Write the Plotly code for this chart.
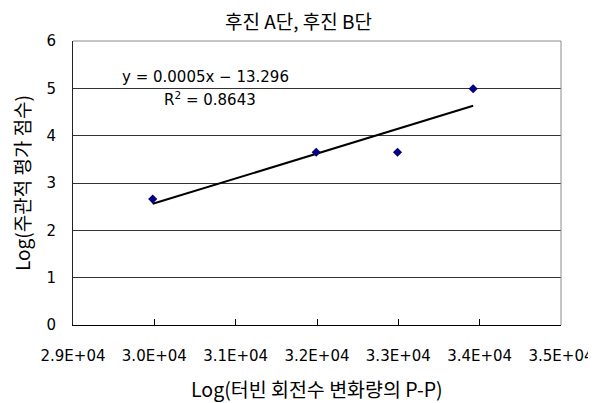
import numpy as np
import plotly.graph_objects as go

# data
x_vals = [29980, 31990, 32990, 33920]
y_vals = [2.66, 3.65, 3.65, 4.99]

x_ticks = [29000, 30000, 31000, 32000, 33000, 34000, 35000]
x_tick_labels = ["2.9E+04", "3.0E+04", "3.1E+04", "3.2E+04", "3.3E+04", "3.4E+04", "3.5E+04"]
y_ticks = [0, 1, 2, 3, 4, 5, 6]

title_text = "후진 A단, 후진 B단"
x_title = "Log(터빈 회전수 변화량의 P-P)"
y_title = "Log(주관적 평가 점수)"
eq_text = "y = 0.0005x − 13.296"
r2_text = "R<sup>2</sup> = 0.8643"

# linear trendline from the data
slope, intercept = np.polyfit(x_vals, y_vals, 1)
trend_x = [min(x_vals), max(x_vals)]
trend_y = [slope * v + intercept for v in trend_x]

KFONT = "Noto Sans CJK KR"
NFONT = "DejaVu Sans"

fig = go.Figure()
fig.add_trace(go.Scatter(x=trend_x, y=trend_y, mode="lines",
                         line=dict(color="black", width=2), showlegend=False,
                         hoverinfo="skip"))
fig.add_trace(go.Scatter(x=x_vals, y=y_vals, mode="markers",
                         marker=dict(symbol="diamond", color="#000080", size=7),
                         showlegend=False))

# the page body has an 8px margin, so the figure is sized/offset to compensate
fig.update_layout(
    width=588, height=395,
    margin=dict(l=65, r=35, t=33, b=78),
    paper_bgcolor="white", plot_bgcolor="white",
    font=dict(family=NFONT, size=15, color="black"),
    xaxis=dict(range=[29000, 35000], tickvals=x_ticks, ticktext=x_tick_labels,
               automargin=False,
               showgrid=False, zeroline=False, showline=True, linecolor="black",
               linewidth=1, ticks="inside", ticklen=6, tickcolor="black",
               ticklabelstandoff=17,
               tickfont=dict(family=NFONT, size=15)),
    yaxis=dict(range=[0, 6], tickvals=y_ticks, showgrid=True, gridcolor="#333333",
               automargin=False,
               gridwidth=1, zeroline=False, showline=True, linecolor="#222222",
               linewidth=1, ticks="", ticklabelstandoff=13,
               tickfont=dict(family=NFONT, size=15)),
    shapes=[
        dict(type="line", xref="paper", yref="paper", x0=0, y0=1, x1=1, y1=1,
             line=dict(color="#8a8a8a", width=1), layer="above"),
        dict(type="line", xref="paper", yref="paper", x0=1, y0=0, x1=1, y1=1,
             line=dict(color="#8a8a8a", width=1), layer="above"),
    ],
    annotations=[
        dict(text=title_text, x=0.5, y=1, xref="paper", yref="paper",
             xanchor="center", yanchor="middle", yshift=21,
             xshift=-19, showarrow=False,
             font=dict(family=KFONT, size=19, color="black")),
        dict(text=x_title, x=0.5, y=0, xref="paper", yref="paper",
             xanchor="center", yanchor="middle", yshift=-63, showarrow=False,
             font=dict(family=KFONT, size=19.5, color="black")),
        dict(text=y_title, x=0, y=0.5, xref="paper", yref="paper",
             xanchor="center", yanchor="middle", xshift=-52, textangle=-90,
             showarrow=False,
             font=dict(family=KFONT, size=19, color="black")),
        dict(text=eq_text, x=30635, y=5.25, xref="x", yref="y", showarrow=False,
             font=dict(family=NFONT, size=15, color="black")),
        dict(text=r2_text, x=30684, y=4.77, xref="x", yref="y", showarrow=False,
             font=dict(family=NFONT, size=15, color="black")),
    ],
)

fig.write_html("out.html")
